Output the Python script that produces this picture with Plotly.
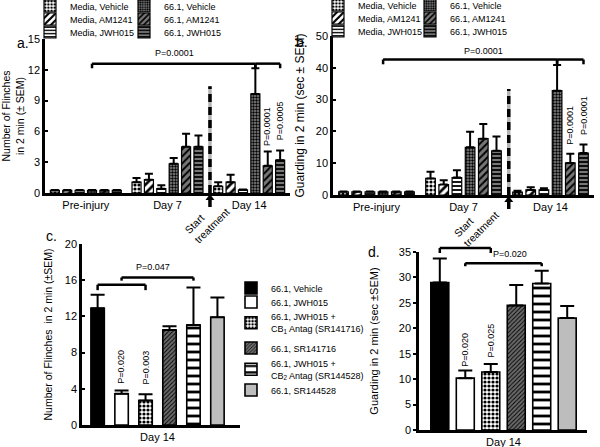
import plotly.graph_objects as go

# values
timepoints = ["Pre-injury", "Day 7", "Day 14"]
groups_ab = ["Media, Vehicle", "Media, AM1241", "Media, JWH015",
             "66.1, Vehicle", "66.1, AM1241", "66.1, JWH015"]

# a. flinches, one row per group (Pre-injury, Day 7, Day 14)
flinch_mean = [[0.25, 1.05, 0.65],
               [0.25, 1.30, 1.05],
               [0.25, 0.42, 0.30],
               [0.25, 2.85, 9.65],
               [0.25, 4.50, 2.65],
               [0.25, 4.50, 3.20]]
flinch_sem = [[0.05, 0.40, 0.40],
              [0.05, 0.58, 0.72],
              [0.05, 0.33, 0.05],
              [0.05, 0.55, 2.50],
              [0.05, 1.27, 1.40],
              [0.05, 1.10, 0.95]]

# b. guarding
guard_mean = [[1.0, 5.2, 0.9],
              [1.0, 3.3, 1.6],
              [1.0, 5.5, 1.6],
              [1.0, 15.0, 32.8],
              [1.0, 17.7, 10.1],
              [1.0, 13.9, 13.2]]
guard_sem = [[0.1, 2.1, 0.4],
             [0.1, 1.3, 0.8],
             [0.1, 2.3, 0.5],
             [0.1, 4.9, 8.1],
             [0.1, 4.6, 2.9],
             [0.1, 4.5, 2.7]]

# c./d. day 14 antagonist study
groups_cd = ["66.1, Vehicle", "66.1, JWH015",
             "66.1, JWH015 +<br>CB<sub>1</sub> Antag (SR141716)",
             "66.1, SR141716",
             "66.1, JWH015 +<br>CB<sub>2</sub> Antag (SR144528)",
             "66.1, SR144528"]
flinch_d14 = [12.9, 3.45, 2.7, 10.5, 11.05, 11.9]
flinch_d14_sem = [1.5, 0.35, 0.7, 0.4, 4.15, 2.2]
guard_d14 = [29.0, 10.2, 11.4, 24.5, 28.8, 22.0]
guard_d14_sem = [4.7, 1.5, 1.6, 4.0, 2.5, 2.4]

W, H = 600, 447
FONT = "Arial, Liberation Sans, sans-serif"
BARGAP = 0.09
BARGROUPGAP = 0.27
TREAT_X = 1.52  # start of treatment, between Day 7 and Day 14


def px(x):
    return x / W


def py(y):
    return 1 - y / H


def slot(i, j, n=6):
    # centre of bar j inside category i (grouped mode)
    step = (1 - BARGAP) / n
    return i - (1 - BARGAP) / 2 + (j + 0.5) * step


def pat(shape, fg, bg, size, solid):
    return dict(color=bg, pattern=dict(shape=shape, fgcolor=fg, bgcolor=bg,
                                       size=size, solidity=solid, fillmode="replace"))


styles_ab = [pat(".", "black", "white", 4, 0.5),
             pat("/", "black", "white", 6, 0.45),
             pat("-", "black", "white", 4, 0.45),
             pat(".", "black", "#8a8a8a", 3, 0.5),
             pat("/", "black", "#777777", 5, 0.4),
             pat("-", "black", "#777777", 4, 0.45)]

styles_cd = [dict(color="black"),
             dict(color="white"),
             pat(".", "black", "white", 4, 0.5),
             pat("/", "black", "#6a6a6a", 3, 0.3),
             pat("-", "black", "white", 8, 0.35),
             dict(color="#bdbdbd")]


def leg_id(n):
    return "legend" if n == 1 else "legend%d" % n


def err(arr):
    return dict(type="data", array=arr, symmetric=False, arrayminus=[0] * len(arr),
                color="black", thickness=2, width=4)


fig = go.Figure()
legends = {}
legend_style = dict(xanchor="left", yanchor="middle", bgcolor="rgba(0,0,0,0)",
                    borderwidth=0, font=dict(size=9, family=FONT, color="black"))

ab_rows = [6, 19, 32]
for j, name in enumerate(groups_ab):
    line = dict(color="black", width=1.2)
    fig.add_trace(go.Bar(x=timepoints, y=flinch_mean[j], name=name,
                         marker=dict(**styles_ab[j], line=line), error_y=err(flinch_sem[j]),
                         xaxis="x", yaxis="y", legend=leg_id(1 + j)))
    fig.add_trace(go.Bar(x=timepoints, y=guard_mean[j], name=name,
                         marker=dict(**styles_ab[j], line=line), error_y=err(guard_sem[j]),
                         xaxis="x2", yaxis="y2", legend=leg_id(7 + j)))
    r, c = j % 3, j // 3
    legends[leg_id(1 + j)] = dict(legend_style, x=px([70, 164][c] - 40), y=py(ab_rows[r]))
    legends[leg_id(7 + j)] = dict(legend_style, x=px([358, 450][c] - 40), y=py(ab_rows[r] - 1))

cd_rows = [288, 302, 323, 348, 369.5, 390]
for j, name in enumerate(groups_cd):
    line = dict(color="black", width=1.6)
    e1 = err([flinch_d14_sem[j]])
    e1["width"] = 7
    e2 = err([guard_d14_sem[j]])
    e2["width"] = 7
    fig.add_trace(go.Bar(x=["Day 14"], y=[flinch_d14[j]], name=name, width=0.085,
                         marker=dict(**styles_cd[j], line=line), error_y=e1,
                         xaxis="x3", yaxis="y3", legend=leg_id(13 + j)))
    fig.add_trace(go.Bar(x=["Day 14"], y=[guard_d14[j]], name=name, width=0.107,
                         marker=dict(**styles_cd[j], line=line), error_y=e2,
                         xaxis="x4", yaxis="y4", showlegend=False))
    legends[leg_id(13 + j)] = dict(legend_style, x=px(271 - 40), y=py(cd_rows[j]))

axis_common = dict(showline=True, linecolor="black", linewidth=2.5, showgrid=False,
                   zeroline=False, tickfont=dict(size=11, family=FONT, color="black"))
xcat = dict(axis_common, type="category", ticks="")
ycommon = dict(axis_common, ticks="inside", ticklen=3, tickwidth=2, tickcolor="black")
title_font = dict(family=FONT, color="black")

fig.update_layout(
    width=W, height=H, margin=dict(l=0, r=0, t=0, b=0, autoexpand=False),
    paper_bgcolor="white", plot_bgcolor="white",
    font=dict(family=FONT, color="black"),
    barmode="group", bargap=BARGAP, bargroupgap=BARGROUPGAP,
    xaxis=dict(xcat, domain=[px(45), px(290)], range=[-0.5, 2.5], anchor="y"),
    yaxis=dict(ycommon, domain=[py(193), py(39)], range=[0, 15], dtick=3, anchor="x",
               title=dict(text="Number of Flinches<br>in 2 min (± SEM)",
                          font=dict(title_font, size=10.5), standoff=7)),
    xaxis2=dict(xcat, domain=[px(333), px(594)], range=[-0.5, 2.5], anchor="y2"),
    yaxis2=dict(ycommon, domain=[py(195), py(36)], range=[0, 50], dtick=10, anchor="x2",
                title=dict(text="Guarding in 2 min (sec ± SEM)",
                           font=dict(title_font, size=12), standoff=9)),
    xaxis3=dict(xcat, domain=[px(82), px(240)], range=[-0.478, 0.522], anchor="y3"),
    yaxis3=dict(ycommon, domain=[py(425), py(244)], range=[0, 20], dtick=4, anchor="x3",
                title=dict(text="Number of Flinches  in 2 min (±SEM)",
                           font=dict(title_font, size=10.5), standoff=11)),
    xaxis4=dict(xcat, domain=[px(419), px(587)], range=[-0.503, 0.497], anchor="y4"),
    yaxis4=dict(ycommon, domain=[py(430), py(252)], range=[0, 35], dtick=5, anchor="x4",
                ticks="outside",
                title=dict(text="Guarding in 2 min (sec ±SEM)",
                           font=dict(title_font, size=11), standoff=18)),
    **legends,
)

shapes = []
annos = []


def bracket(xa, ya, ymax, x0, x1, yv, drop):
    for sx0, sy0, sx1, sy1 in [(x0, yv, x1, yv), (x0, yv, x0, yv - drop), (x1, yv, x1, yv - drop)]:
        shapes.append(dict(type="line", xref=xa, yref=ya + " domain",
                           x0=sx0, x1=sx1, y0=sy0 / ymax, y1=sy1 / ymax,
                           line=dict(color="black", width=2.5)))


def ptext(xa, ya, x, y, text, vertical=False):
    annos.append(dict(xref=xa, yref=ya, x=x, y=y, text=text, showarrow=False,
                      textangle=-90 if vertical else 0,
                      yanchor="bottom" if vertical else "middle",
                      font=dict(size=9, family=FONT, color="black")))


# a.
bracket("x", "y", 15, slot(0, 3), slot(2, 3), 12.6, 0.45)
bracket("x", "y", 15, slot(2, 3), slot(2, 5), 12.6, 0.45)
ptext("x", "y", 1.08, 13.6, "P=0.0001")
ptext("x", "y", slot(2, 4), 4.4, "P=0.0001", True)
ptext("x", "y", slot(2, 5), 4.9, "P=0.0005", True)
# b.
bracket("x2", "y2", 50, slot(0, 3), slot(2, 3), 42.6, 1.5)
bracket("x2", "y2", 50, slot(2, 3), slot(2, 5), 42.6, 1.5)
ptext("x2", "y2", 1.23, 45.3, "P=0.0001")
ptext("x2", "y2", slot(2, 4), 15.1, "P=0.0001", True)
ptext("x2", "y2", slot(2, 5), 18.2, "P=0.0001", True)
# c.
bracket("x3", "y3", 20, slot(0, 0), slot(0, 2), 15.5, 0.6)
bracket("x3", "y3", 20, slot(0, 1), slot(0, 4), 16.3, 0.35)
ptext("x3", "y3", -0.03, 17.5, "P=0.047")
ptext("x3", "y3", slot(0, 1), 4.3, "P=0.020", True)
ptext("x3", "y3", slot(0, 2), 4.2, "P=0.003", True)
# d.
bracket("x4", "y4", 35, slot(0, 0), slot(0, 2), 35.8, 1.0)
bracket("x4", "y4", 35, slot(0, 1), slot(0, 4), 32.8, 0.6)
ptext("x4", "y4", slot(0, 3) - 0.04, 34.6, "P=0.020")
ptext("x4", "y4", slot(0, 1), 12.1, "P=0.020", True)
ptext("x4", "y4", slot(0, 2), 13.8, "P=0.025", True)

# start of treatment: dashed marker, arrow and label
for xa, ya, top, yaxis_px, lab in [("x", "y", 10.4, 193, (207, 221)),
                                   ("x2", "y2", 33.3, 195, (504, 224))]:
    shapes.append(dict(type="line", xref=xa, yref=ya, x0=TREAT_X, x1=TREAT_X, y0=0, y1=top,
                       line=dict(color="#b5b5b5", width=3.5)))
    shapes.append(dict(type="line", xref=xa, yref=ya, x0=TREAT_X, x1=TREAT_X, y0=0, y1=top,
                       line=dict(color="black", width=3.5, dash="8px,5px")))
    # arrow below the axis: shaft + head
    shapes.append(dict(type="line", xref=xa, yref="paper", x0=TREAT_X, x1=TREAT_X,
                       y0=py(yaxis_px + 14), y1=py(yaxis_px + 5),
                       line=dict(color="black", width=3.5)))
    shapes.append(dict(type="path", xref=xa, yref="paper", xsizemode="pixel", xanchor=TREAT_X,
                       path="M-4.5,%f L4.5,%f L0,%f Z" % (py(yaxis_px + 7), py(yaxis_px + 7), py(yaxis_px + 1)),
                       fillcolor="black", line=dict(width=0)))
    annos.append(dict(xref="paper", yref="paper", x=px(lab[0]), y=py(lab[1]),
                      text="Start<br>treatment", textangle=-45, showarrow=False,
                      align="left", font=dict(size=10.5, family=FONT, color="black")))

for letter, (lx, ly) in {"a.": (16, 34), "b.": (302, 33), "c.": (45, 236), "d.": (374, 252)}.items():
    annos.append(dict(xref="paper", yref="paper", x=px(lx), y=py(ly), text=letter,
                      showarrow=False, borderpad=0,
                      font=dict(size=14, family=FONT, color="black")))

fig.update_layout(shapes=shapes, annotations=annos)
fig.write_html("out.html", config={"displayModeBar": False},
               post_script="document.body.style.margin='0';")
